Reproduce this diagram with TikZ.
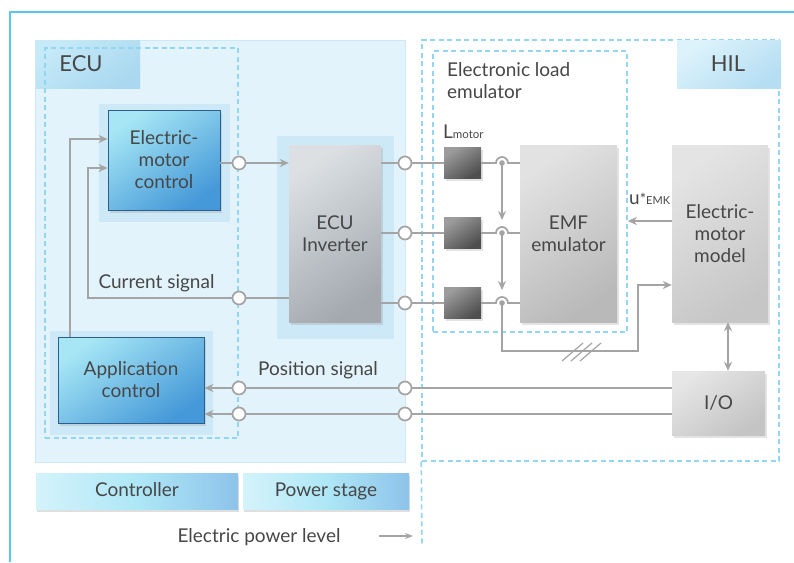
\documentclass[tikz,border=0pt]{standalone}
\usepackage{fontspec}
\setmainfont{Lato}
\usetikzlibrary{arrows.meta,shadows,calc}
\definecolor{framec}{HTML}{5CC6EE}
\definecolor{dashc}{HTML}{93D6F3}
\definecolor{lnc}{HTML}{A4A4A4}
\definecolor{txtc}{HTML}{474747}
\definecolor{ecubg}{HTML}{E3F3FB}
\definecolor{padc}{HTML}{CDE8F6}
\definecolor{blueA}{HTML}{A6E6F5}
\definecolor{blueB}{HTML}{4599D8}
\definecolor{blueE}{HTML}{2B5E8C}
\definecolor{eculA}{HTML}{C6EAF7}
\definecolor{eculB}{HTML}{A9D8F0}
\definecolor{hilA}{HTML}{DDF3FB}
\definecolor{hilB}{HTML}{B5DEF3}
\definecolor{invA}{HTML}{DCE0E3}
\definecolor{invB}{HTML}{A3A9AF}
\definecolor{emfA}{HTML}{E2E2E2}
\definecolor{emfB}{HTML}{B9B9B9}
\definecolor{emmA}{HTML}{E4E4E4}
\definecolor{emmB}{HTML}{C6C6C6}
\definecolor{ioA}{HTML}{E6E6E6}
\definecolor{ioB}{HTML}{C4C4C4}
\definecolor{indA}{HTML}{9C9C9C}
\definecolor{indB}{HTML}{4E4E4E}
\definecolor{lvlA}{HTML}{D4F3FB}
\definecolor{lvlM}{HTML}{AEE7F6}
\definecolor{lvlB}{HTML}{8EC3EA}
\begin{document}
\begin{tikzpicture}[x=1pt,y=-1pt,
  lbl/.style={text=txtc, font=\fontsize{19}{22}\selectfont},
  bigl/.style={text=txtc, font=\fontsize{22}{24}\selectfont},
  shad/.style={drop shadow={shadow xshift=1.5pt, shadow yshift=-2.5pt, opacity=0.22}},
  bluebox/.style={draw=blueE, line width=0.9pt, top color=blueA, bottom color=blueB, shading angle=35,
     align=center, inner sep=0pt, lbl, shad},
  graybox/.style={align=center, inner sep=0pt, lbl, shad},
  pad/.style={fill=padc, inner sep=0pt},
  conn/.style={draw=lnc, line width=1.7pt},
  arr/.style={conn, -{Stealth[length=9pt,width=8pt]}},
  darr/.style={conn, {Stealth[length=9pt,width=8pt]}-{Stealth[length=9pt,width=8pt]}},
  port/.style={circle, draw=lnc, fill=white, line width=1.7pt, minimum size=13pt, inner sep=0pt},
  dbox/.style={draw=dashc, line width=1.6pt, dash pattern=on 5pt off 3.5pt},
  lvl/.style={left color=lvlA, right color=lvlB, middle color=lvlM, inner sep=0pt, lbl,
     text height=15pt, text depth=4pt,
     drop shadow={shadow xshift=1pt, shadow yshift=-2.5pt, opacity=0.25}}
]
\useasboundingbox (0,0) rectangle (794,562);
\fill[white] (0,0) rectangle (794,562);
% outer frame
\draw[framec, line width=2pt] (10,562) -- (10,12) -- (794,12);

% ECU background
\node[fill=ecubg, draw=padc, line width=1pt, minimum width=370pt, minimum height=422pt, inner sep=0pt] (ecu) at (220,251) {};
\node[top color=eculA, bottom color=eculB, shading angle=35, minimum width=104pt, minimum height=48pt, inner sep=0pt] (ecul) at (88,64) {};
\node[bigl] (ecut) at (81,64) {ECU};

% controller dashed box
\node[dbox, minimum width=193pt, minimum height=390pt] (ctrl) at (141.5,243) {};

% pads
\node[pad, minimum width=131pt, minimum height=118pt] (emcpad) at (164.5,163) {};
\node[pad, minimum width=117pt, minimum height=203pt] (invpad) at (335.5,237.5) {};
\node[pad, minimum width=163pt, minimum height=104pt] (apppad) at (131.5,383) {};

% main boxes
\node[bluebox, minimum width=112pt, minimum height=100pt] (emc) at (164,160) {Electric-\\motor\\control};
\node[graybox, top color=invA, bottom color=invB, shading angle=35, minimum width=92pt, minimum height=177pt] (inv) at (335,233.5) {ECU\\Inverter};
\node[bluebox, minimum width=146pt, minimum height=86pt] (app) at (131,380) {Application\\control};

% HIL
\node[dbox, minimum width=357pt, minimum height=421pt] (hil) at (600.5,250.5) {};
\draw[dbox] (hil.south west) -- (422,545);
\node[top color=hilA, bottom color=hilB, shading angle=35, minimum width=104pt, minimum height=48pt, inner sep=0pt] (hill) at (729,64) {};
\node[bigl] (hilt) at (728,64) {HIL};

% electronic load emulator
\node[dbox, minimum width=194pt, minimum height=281pt] (ele) at (530,191.5) {};
\node[lbl, align=left, anchor=north west, inner sep=0pt] (elet) at (447,62) {Electronic load\\emulator};
\node[text=txtc, anchor=base west, inner sep=0pt] (lm) at (443,138) {\fontsize{19}{19}\selectfont L{\fontsize{11.5}{11}\selectfont motor}};

\node[graybox, top color=emfA, bottom color=emfB, shading angle=35, minimum width=97pt, minimum height=177pt] (emf) at (568.5,233.5) {EMF\\emulator};
\node[graybox, top color=emmA, bottom color=emmB, shading angle=35, minimum width=96pt, minimum height=177pt] (emm) at (720,233.5) {Electric-\\motor\\model};
\node[graybox, top color=ioA, bottom color=ioB, shading angle=35, minimum width=93pt, minimum height=64pt] (io) at (718.5,403) {I/O};

% inductors
\foreach \n/\yy in {1/163,2/233,3/303}{
  \node[top color=indA, bottom color=indB, shading angle=35, inner sep=0pt, minimum width=37pt, minimum height=31pt, shad] (L\n) at (462.5,\yy) {};
  \coordinate (j\n) at (502,\yy);
}

% ports
\node[port] (p1) at (239,163) {};
\node[port] (p2) at (405,163) {};
\node[port] (p3) at (405,233) {};
\node[port] (p4) at (405,303) {};
\node[port] (p5) at (239,298) {};
\node[port] (p6) at (239,388) {};
\node[port] (p7) at (405,388) {};
\node[port] (p8) at (239,414) {};
\node[port] (p9) at (405,414) {};

% connectors ECU
\draw[conn] (emc.east |- p1) -- (p1);
\draw[arr] (p1) -- (inv.west |- p1);
\coordinate (c1) at (70,139);
\coordinate (c2) at (88,168);
\coordinate (c3) at (88,298);
\draw[arr] (app.north -| c1) -- (c1) -- (emc.west |- c1);
\draw[conn] (inv.west |- p5) -- (p5);
\draw[arr] (p5) -- (c3) -- (c2) -- (emc.west |- c2);
\node[lbl, anchor=west] (cs) at (95,283) {Current signal};
\node[lbl] (ps) at (318,370) {Position signal};

\draw[conn] (io.west |- p7) -- (p7) -- (p6);
\draw[arr] (p6) -- (app.east |- p6);
\draw[conn] (io.west |- p9) -- (p9) -- (p8);
\draw[arr] (p8) -- (app.east |- p8);

% inverter outputs
\foreach \k/\p in {1/p2,2/p3,3/p4}{
  \draw[conn] (inv.east |- \p) -- (\p) -- (L\k.west);
  \draw[conn] (L\k.east) -- ($(j\k)+(-6,0)$) arc[start angle=180, end angle=0, radius=6pt] -- (emf.west |- j\k);
  \fill[lnc] (j\k) circle[radius=2.8pt];
}
\draw[arr] (j1) -- ($(j2)+(0,-13)$);
\draw[arr] (j2) -- ($(j3)+(0,-13)$);
\coordinate (f1) at (502,351);
\coordinate (f2) at (638,351);
\coordinate (f3) at (638,285);
\draw[arr] (j3) -- (f1) -- (f2) -- (f3) -- (emm.west |- f3);
\foreach \dx in {0,9,18}{
  \draw[lnc, line width=1.2pt] (562+\dx,361) -- (583+\dx,343);
}

% EMK
\coordinate (ek) at (0,221);
\draw[arr] (emm.west |- ek) -- (ele.east |- ek);
\node[text=txtc, anchor=base west, inner sep=0pt] (uemk) at (629,204) {\fontsize{19}{19}\selectfont u{\fontsize{15}{15}\selectfont *}{\fontsize{11}{11}\selectfont EMK}};
\coordinate (dx) at (728,0);
\draw[darr] (emm.south -| dx) -- (io.north -| dx);

% bottom level boxes
\node[lvl, minimum width=202pt, minimum height=36pt] (ctl) at (137,491) {Controller};
\node[lvl, minimum width=166pt, minimum height=36pt] (pws) at (326,491) {Power stage};
\node[lbl] (epl) at (259,537) {Electric power level};
\coordinate (pa1) at (379,536);
\coordinate (pa2) at (413,536);
\draw[conn, -{Stealth[length=8pt,width=6pt]}, line width=1.3pt] (pa1) -- (pa2);
\end{tikzpicture}
\end{document}
